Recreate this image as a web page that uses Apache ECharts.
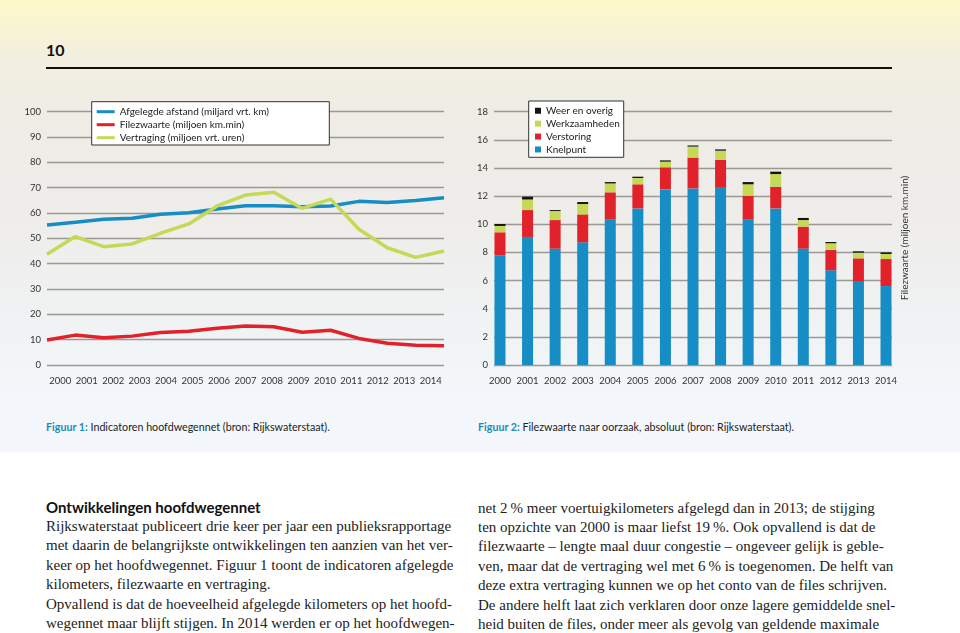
<!DOCTYPE html>
<html>
<head>
<meta charset="utf-8">
<script src="https://cdn.jsdelivr.net/npm/echarts@6/dist/echarts.min.js"></script>
<style>
  html, body { margin:0; padding:0; width:960px; height:633px; overflow:hidden; background:#fff; }
  #bg { position:absolute; left:0; top:0; width:960px; height:452px;
        background: linear-gradient(to bottom, #fdf8c9 0px, #f3efdf 55px, #eeece5 110px, #eeedea 220px, #f0f3f4 330px, #f3f7fb 400px, #f4f8fc 452px); }
  #num { position:absolute; left:46px; top:40px; font-family:Lato, sans-serif; font-weight:bold; font-size:16px; color:#111; }
  #rule { position:absolute; left:46px; top:67px; width:846px; height:2px; background:#111; }
  #chart { position:absolute; left:0; top:0; width:960px; height:400px; }
  .cap { position:absolute; top:420px; font-family:Lato, sans-serif; font-size:10.7px; color:#222; white-space:nowrap; }
  .cap b { color:#1b8db8; font-weight:bold; }
  .col { position:absolute; font-family:"Liberation Serif", serif; font-size:15px; line-height:19.4px; color:#222; }
  .col div { white-space:nowrap; }
  .col .h { font-family:Lato, sans-serif; font-weight:bold; font-size:15px; color:#111; }
</style>
</head>
<body>
<div id="bg"></div>
<div id="num">10</div>
<div id="rule"></div>
<div id="chart"></div>
<div class="cap" style="left:46px"><b>Figuur 1:</b> Indicatoren hoofdwegennet (bron: Rijkswaterstaat).</div>
<div class="cap" style="left:478px"><b>Figuur 2:</b> Filezwaarte naar oorzaak, absoluut (bron: Rijkswaterstaat).</div>
<div class="col" style="left:46px; top:497.6px">
  <div class="h">Ontwikkelingen hoofdwegennet</div>
  <div>Rijkswaterstaat publiceert drie keer per jaar een publieksrapportage</div>
  <div>met daarin de belangrijkste ontwikkelingen ten aanzien van het ver-</div>
  <div>keer op het hoofdwegennet. Figuur 1 toont de indicatoren afgelegde</div>
  <div>kilometers, filezwaarte en vertraging.</div>
  <div>Opvallend is dat de hoeveelheid afgelegde kilometers op het hoofd-</div>
  <div>wegennet maar blijft stijgen. In 2014 werden er op het hoofdwegen-</div>
</div>
<div class="col" style="left:478px; top:498.6px">
  <div>net 2&#8201;% meer voertuigkilometers afgelegd dan in 2013; de stijging</div>
  <div>ten opzichte van 2000 is maar liefst 19&#8201;%. Ook opvallend is dat de</div>
  <div>filezwaarte – lengte maal duur congestie – ongeveer gelijk is geble-</div>
  <div>ven, maar dat de vertraging wel met 6&#8201;% is toegenomen. De helft van</div>
  <div>deze extra vertraging kunnen we op het conto van de files schrijven.</div>
  <div>De andere helft laat zich verklaren door onze lagere gemiddelde snel-</div>
  <div>heid buiten de files, onder meer als gevolg van geldende maximale</div>
</div>
<script>
const years = ['2000','2001','2002','2003','2004','2005','2006','2007','2008','2009','2010','2011','2012','2013','2014'];

// Figuur 1
const afstand     = [55.3, 56.4, 57.5, 57.9, 59.5, 60.1, 61.6, 62.9, 62.9, 62.5, 62.8, 64.6, 64.2, 64.9, 66.0];
const filezwaarte = [9.9, 11.8, 10.8, 11.4, 12.8, 13.3, 14.5, 15.4, 15.1, 12.9, 13.7, 10.5, 8.6, 7.8, 7.6];
const vertraging  = [43.7, 50.7, 46.7, 47.8, 52.0, 55.7, 62.8, 67.1, 68.2, 61.8, 65.5, 53.6, 46.3, 42.5, 45.0];

// Figuur 2
const knelpunt      = [7.77, 9.10, 8.27, 8.72, 10.35, 11.13, 12.48, 12.55, 12.65, 10.35, 11.13, 8.27, 6.73, 5.97, 5.61];
const verstoring    = [1.66, 1.91, 2.03, 1.98, 1.92, 1.71, 1.57, 2.19, 1.92, 1.68, 1.54, 1.56, 1.44, 1.61, 1.92];
const werkzaamheden = [0.45, 0.75, 0.64, 0.74, 0.63, 0.45, 0.40, 0.78, 0.66, 0.81, 0.90, 0.47, 0.48, 0.40, 0.36];
const weerOverig    = [0.14, 0.20, 0.07, 0.14, 0.10, 0.09, 0.09, 0.08, 0.09, 0.16, 0.17, 0.15, 0.09, 0.10, 0.11];

const names1 = ['Afgelegde afstand (miljard vrt. km)', 'Filezwaarte (miljoen km.min)', 'Vertraging (miljoen vrt. uren)'];
const names2 = ['Weer en overig', 'Werkzaamheden', 'Verstoring', 'Knelpunt'];

const C_BLUE = '#168dc5', C_RED = '#e2222a', C_GREEN = '#c5d957', C_BLACK = '#141414';
const FONT = 'Lato, sans-serif';
const gridLine = { show: true, lineStyle: { color: '#9c9994', width: 1.3 } };
const lbl = { color: '#333', fontFamily: FONT, fontSize: 9.5 };

const chart = echarts.init(document.getElementById('chart'), null, { renderer: 'canvas' });
chart.setOption({
  backgroundColor: 'transparent',
  animation: false,
  grid: [
    { left: 47, top: 111.7, width: 397, height: 253.3 },
    { left: 494, top: 111.7, width: 398, height: 253.3 },
    { left: 486.2, top: 111.7, width: 413.6, height: 253.3 }
  ],
  xAxis: [
    { gridIndex: 0, type: 'category', data: years, boundaryGap: false, show: false },
    { gridIndex: 0, type: 'category', data: years, boundaryGap: true, position: 'bottom',
      axisLine: { show: false }, axisTick: { show: false }, axisLabel: Object.assign({ margin: 11, interval: 0 }, lbl) },
    { gridIndex: 1, type: 'category', data: years, show: false },
    { gridIndex: 2, type: 'category', data: years, boundaryGap: true,
      axisLine: { show: false }, axisTick: { show: false }, axisLabel: Object.assign({ margin: 11, interval: 0 }, lbl) }
  ],
  yAxis: [
    { gridIndex: 0, type: 'value', min: 0, max: 100, interval: 10,
      axisLine: { show: false }, axisTick: { show: false }, splitLine: gridLine,
      axisLabel: Object.assign({ margin: 6 }, lbl) },
    { gridIndex: 1, type: 'value', min: 0, max: 18, interval: 2,
      axisLine: { show: false }, axisTick: { show: false }, splitLine: gridLine,
      axisLabel: Object.assign({ margin: 6 }, lbl) },
    { gridIndex: 2, type: 'value', min: 0, max: 18, interval: 2, show: false, splitLine: { show: false } }
  ],
  legend: [
    { data: names1, orient: 'vertical', left: 96.7, top: 105.2, padding: 0, itemGap: 0,
      icon: 'rect', itemWidth: 18, itemHeight: 3, selectedMode: false,
      textStyle: { fontFamily: FONT, fontSize: 10, color: '#222', lineHeight: 13 } },
    { data: names2, orient: 'vertical', left: 535, top: 104.3, padding: 0, itemGap: 0,
      icon: 'rect', itemWidth: 6, itemHeight: 6, selectedMode: false,
      textStyle: { fontFamily: FONT, fontSize: 10, color: '#222', lineHeight: 12.9 } }
  ],
  graphic: [
    { type: 'rect', z: 3, shape: { x: 91.7, y: 101.7, width: 237.6, height: 43.3 },
      style: { fill: '#fff', stroke: '#333', lineWidth: 1 } },
    { type: 'rect', z: 3, shape: { x: 528.7, y: 101, width: 95, height: 56.3 },
      style: { fill: '#fff', stroke: '#333', lineWidth: 1 } },
    { type: 'text', z: 5, x: 905, y: 238, rotation: Math.PI / 2,
      style: { text: 'Filezwaarte (miljoen km.min)', fill: '#333', font: '10px Lato, sans-serif',
               textAlign: 'center', textVerticalAlign: 'middle' } }
  ],
  series: [
    { name: names1[0], type: 'line', xAxisIndex: 0, yAxisIndex: 0, data: afstand, symbol: 'none',
      itemStyle: { color: C_BLUE }, lineStyle: { color: C_BLUE, width: 3.5 } },
    { name: names1[1], type: 'line', xAxisIndex: 0, yAxisIndex: 0, data: filezwaarte, symbol: 'none',
      itemStyle: { color: C_RED }, lineStyle: { color: C_RED, width: 3.5 } },
    { name: names1[2], type: 'line', xAxisIndex: 0, yAxisIndex: 0, data: vertraging, symbol: 'none',
      itemStyle: { color: C_GREEN }, lineStyle: { color: C_GREEN, width: 3.5 } },
    { name: 'Knelpunt', type: 'bar', stack: 'oorzaak', xAxisIndex: 3, yAxisIndex: 2, data: knelpunt,
      barWidth: 11, itemStyle: { color: C_BLUE } },
    { name: 'Verstoring', type: 'bar', stack: 'oorzaak', xAxisIndex: 3, yAxisIndex: 2, data: verstoring,
      barWidth: 11, itemStyle: { color: C_RED } },
    { name: 'Werkzaamheden', type: 'bar', stack: 'oorzaak', xAxisIndex: 3, yAxisIndex: 2, data: werkzaamheden,
      barWidth: 11, itemStyle: { color: C_GREEN } },
    { name: 'Weer en overig', type: 'bar', stack: 'oorzaak', xAxisIndex: 3, yAxisIndex: 2, data: weerOverig,
      barWidth: 11, itemStyle: { color: C_BLACK } }
  ]
});
</script>
</body>
</html>
